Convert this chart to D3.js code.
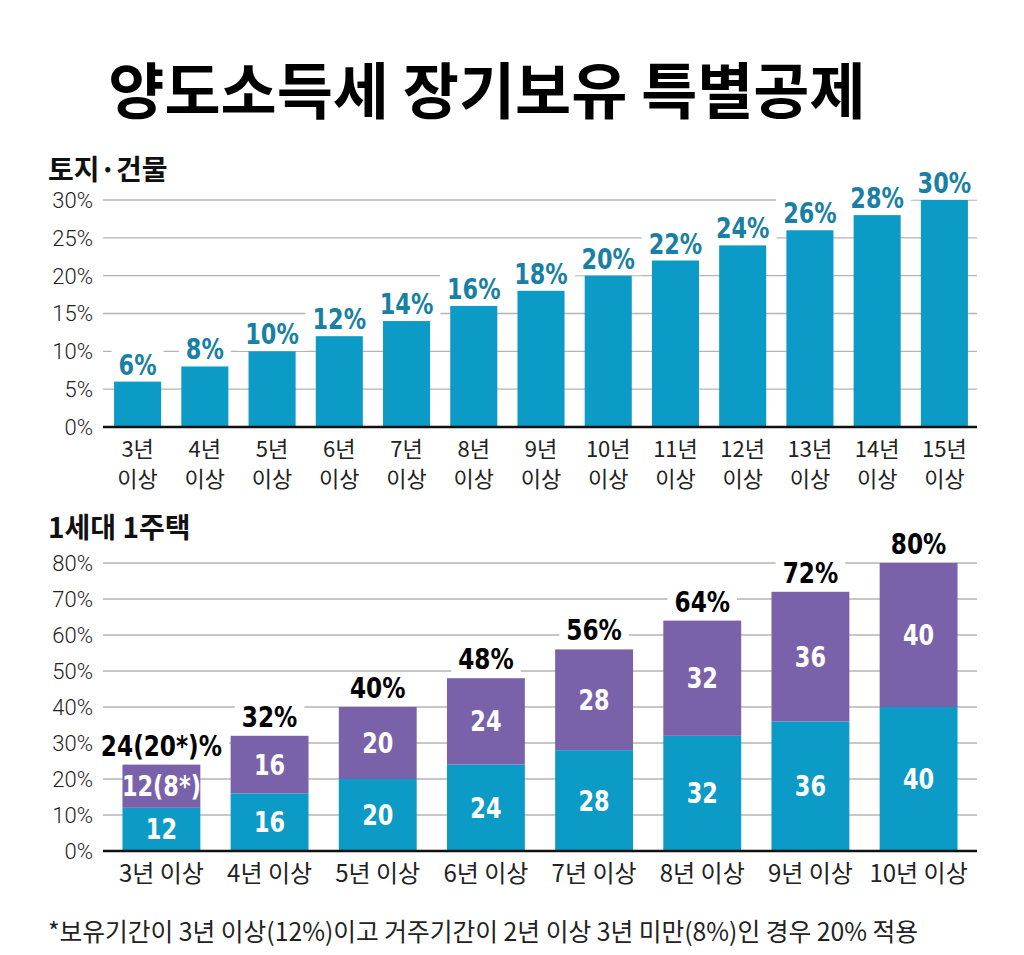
<!DOCTYPE html>
<html>
<head>
<meta charset="utf-8">
<script src="https://cdn.jsdelivr.net/npm/d3@7"></script>
<style>
  html, body { margin: 0; padding: 0; background: #fff; }
  svg { display: block; }
</style>
</head>
<body>
<div id="chart"></div>
<script>
const COLORS = {
    teal: "#0c9ac7",
    tealText: "#1a7fa4",
    purple: "#7a62aa",
    grid: "#b4b4b4",
    ink: "#111"
};

const KR = "'Noto Sans CJK KR', 'Noto Sans', sans-serif";
const NUM = "'DejaVu Sans', 'Roboto', sans-serif";
const TICK = "'Roboto', 'Liberation Sans', sans-serif";
const SQUEEZE = 0.8; // 숫자 라벨 가로 압축

// 토지·건물
const landYears = ["3년", "4년", "5년", "6년", "7년", "8년", "9년", "10년", "11년", "12년", "13년", "14년", "15년"];
const landRates = [6, 8, 10, 12, 14, 16, 18, 20, 22, 24, 26, 28, 30];
const landTicks = [0, 5, 10, 15, 20, 25, 30];

// 1세대 1주택
const homeYears = ["3년 이상", "4년 이상", "5년 이상", "6년 이상", "7년 이상", "8년 이상", "9년 이상", "10년 이상"];
const holdRates = [12, 16, 20, 24, 28, 32, 36, 40];     // 보유기간
const liveRates = [12, 16, 20, 24, 28, 32, 36, 40];     // 거주기간
const liveLabels = ["12(8*)", "16", "20", "24", "28", "32", "36", "40"];
const totalLabels = ["24(20*)%", "32%", "40%", "48%", "56%", "64%", "72%", "80%"];
const homeTicks = [0, 10, 20, 30, 40, 50, 60, 70, 80];

const W = 1024, H = 955;
const svg = d3.select("#chart").append("svg").attr("width", W).attr("height", H);

svg.append("text").attr("x", 487).attr("y", 114).attr("text-anchor", "middle")
    .attr("font-family", KR).attr("font-weight", 700).attr("font-size", 61)
    .attr("fill", "#000").text("양도소득세 장기보유 특별공제");

// 압축된 숫자 라벨
function numText(g, x, y, txt, size, color) {
    return g.append("text").attr("transform", `translate(${x},${y}) scale(${SQUEEZE},1)`)
        .attr("text-anchor", "middle").attr("font-family", NUM).attr("font-weight", 700)
        .attr("font-size", size).attr("fill", color).text(txt);
}

// 라벨 뒤 흰 바탕 (그리드 가리기)
function labelWithBg(g, x, y, txt, size, color) {
    const t = numText(g, x, y, txt, size, color);
    const b = t.node().getBBox();
    const w = b.width * SQUEEZE;
    g.insert("rect", () => t.node())
        .attr("x", x - w / 2 - 7).attr("y", y + b.y + 2).attr("width", w + 14).attr("height", b.height - 2)
        .attr("fill", "#fff");
}

function drawGridAxis(g, y, ticks, x0, x1) {
    g.selectAll(".grid").data(ticks.filter(d => d > 0)).join("line")
        .attr("x1", x0).attr("x2", x1).attr("y1", d => y(d)).attr("y2", d => y(d))
        .attr("stroke", COLORS.grid).attr("stroke-width", 1.3);
    g.selectAll(".tick-label").data(ticks).join("text")
        .attr("x", x0 - 10).attr("y", d => y(d)).attr("dy", "0.36em").attr("text-anchor", "end")
        .attr("font-family", TICK).attr("font-weight", 300).attr("font-size", 22).attr("fill", "#222")
        .text(d => d + "%");
}

// --- 1. 토지·건물 ---
(function () {
    const g = svg.append("g");
    g.append("text").attr("x", 48).attr("y", 180).attr("font-family", KR).attr("font-weight", 700)
        .attr("font-size", 28).attr("fill", "#111").text("토지·건물");

    const x = d3.scaleBand().domain(landYears).range([104, 978]).paddingInner(0.3).paddingOuter(0.15);
    const y = d3.scaleLinear().domain([0, 30]).range([427, 200]);

    const grid = g.append("g");
    drawGridAxis(grid, y, landTicks, 103, 977);

    const labels = g.append("g");
    landRates.forEach((v, i) => {
        labelWithBg(labels, x(landYears[i]) + x.bandwidth() / 2, y(v) - 7, v + "%", 28, COLORS.tealText);
    });

    g.append("g").selectAll("rect").data(landRates).join("rect")
        .attr("x", (d, i) => x(landYears[i])).attr("y", d => y(d))
        .attr("width", x.bandwidth()).attr("height", d => y(0) - y(d))
        .attr("fill", COLORS.teal);

    g.append("line").attr("x1", 103).attr("x2", 977).attr("y1", y(0)).attr("y2", y(0))
        .attr("stroke", COLORS.ink).attr("stroke-width", 2.5);

    // 두 줄 카테고리 라벨 (줄마다 따로)
    const cat = g.append("g").attr("font-family", KR).attr("font-size", 22).attr("fill", "#222")
        .attr("text-anchor", "middle");
    cat.selectAll(".l1").data(landYears).join("text").attr("class", "l1")
        .attr("x", d => x(d) + x.bandwidth() / 2).attr("y", 457).text(d => d);
    cat.selectAll(".l2").data(landYears).join("text").attr("class", "l2")
        .attr("x", d => x(d) + x.bandwidth() / 2).attr("y", 487).text("이상");
})();

// --- 2. 1세대 1주택 ---
(function () {
    const g = svg.append("g");
    g.append("text").attr("x", 48).attr("y", 538).attr("font-family", KR).attr("font-weight", 700)
        .attr("font-size", 28).attr("fill", "#111").text("1세대 1주택");

    const x = d3.scaleBand().domain(homeYears).range([103, 977]).paddingInner(0.28).paddingOuter(0.18);
    const y = d3.scaleLinear().domain([0, 80]).range([851, 563]);

    const grid = g.append("g");
    drawGridAxis(grid, y, homeTicks, 103, 977);

    const stackData = homeYears.map((c, i) => ({ c, hold: holdRates[i], live: liveRates[i] }));
    const series = d3.stack().keys(["hold", "live"])(stackData);
    const fills = { hold: COLORS.teal, live: COLORS.purple };

    const labels = g.append("g");
    stackData.forEach((d, i) => {
        labelWithBg(labels, x(d.c) + x.bandwidth() / 2, y(d.hold + d.live) - 9, totalLabels[i], 29, "#000");
    });

    g.append("g").selectAll("g").data(series).join("g").attr("fill", s => fills[s.key])
        .selectAll("rect").data(s => s).join("rect")
        .attr("x", d => x(d.data.c)).attr("y", d => y(d[1]))
        .attr("width", x.bandwidth()).attr("height", d => y(d[0]) - y(d[1]));

    const segText = [holdRates.map(String), liveLabels];
    const segG = g.append("g");
    series.forEach((s, k) => {
        s.forEach((d, i) => {
            numText(segG, x(d.data.c) + x.bandwidth() / 2, (y(d[0]) + y(d[1])) / 2 + 10, segText[k][i], 28, "#fff");
        });
    });

    g.append("line").attr("x1", 103).attr("x2", 977).attr("y1", y(0)).attr("y2", y(0))
        .attr("stroke", COLORS.ink).attr("stroke-width", 2.5);

    g.append("g").selectAll("text").data(homeYears).join("text")
        .attr("x", d => x(d) + x.bandwidth() / 2).attr("y", 882)
        .attr("text-anchor", "middle").attr("font-family", KR).attr("font-size", 24).attr("fill", "#222")
        .text(d => d);
})();

svg.append("text").attr("x", 48).attr("y", 941)
    .attr("font-family", KR).attr("font-size", 25).attr("fill", "#222")
    .attr("textLength", 870).attr("lengthAdjust", "spacingAndGlyphs")
    .text("*보유기간이 3년 이상(12%)이고 거주기간이 2년 이상 3년 미만(8%)인 경우 20% 적용");
</script>
</body>
</html>
